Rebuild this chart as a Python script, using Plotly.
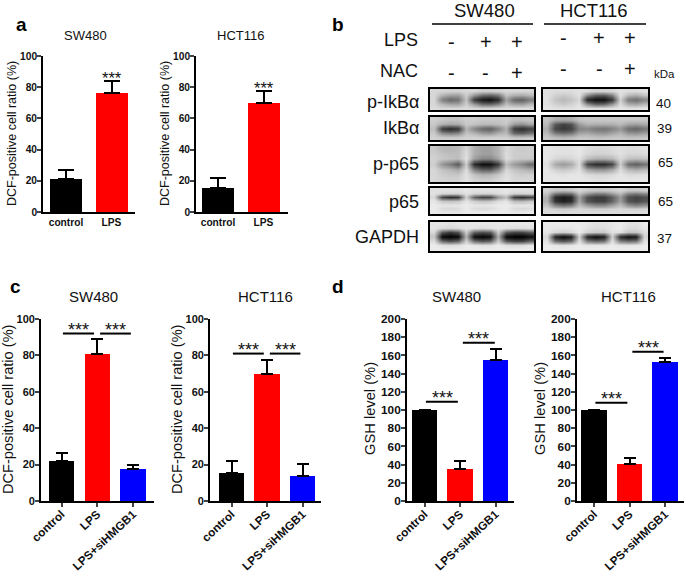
import plotly.graph_objects as go

WIDTH = 685
HEIGHT = 575

BLACK = "#000000"
RED = "#ff0000"
BLUE = "#0000ff"
TEXT = "#111111"
FONT = "Liberation Sans"

two_groups = ["control", "LPS"]
three_groups = ["control", "LPS", "LPS+siHMGB1"]

a_sw480 = [21, 76.5]
a_sw480_err = [6, 7.5]
a_hct116 = [15.5, 70]
a_hct116_err = [6.5, 7.5]

c_sw480 = [22, 80.5, 17.5]
c_sw480_err = [4.5, 8.5, 2.5]
c_hct116 = [15.5, 70, 14]
c_hct116_err = [6.5, 7.5, 6.5]

d_sw480 = [100, 35.5, 154.5]
d_sw480_err = [0, 8.5, 12.5]
d_hct116 = [100, 41, 153]
d_hct116_err = [0, 6, 4]

dcf_ticks = [0, 20, 40, 60, 80, 100]
gsh_ticks = [0, 20, 40, 60, 80, 100, 120, 140, 160, 180, 200]

sw_p_ikba = [
    [215, 215, 210, 210, 215, 215, 205, 205, 210, 215, 215, 215, 215],
    [215, 180, 160, 160, 205, 150, 110, 100, 120, 195, 175, 170, 185],
    [215, 130, 105, 115, 195, 60, 25, 15, 45, 160, 105, 95, 125],
    [215, 185, 165, 165, 205, 155, 110, 105, 130, 190, 165, 160, 185],
    [220, 215, 215, 215, 220, 215, 210, 210, 215, 220, 220, 220, 220],
]
sw_ikba = [
    [205, 200, 195, 195, 205, 205, 200, 200, 200, 205, 195, 195, 200],
    [200, 175, 165, 170, 200, 195, 185, 185, 190, 200, 155, 145, 165],
    [190, 60, 40, 55, 180, 135, 105, 95, 130, 175, 60, 45, 65],
    [200, 140, 125, 135, 195, 180, 155, 150, 175, 185, 105, 95, 115],
    [210, 205, 205, 205, 210, 210, 210, 210, 210, 210, 200, 200, 205],
]
sw_p_p65 = [
    [200, 180, 180, 185, 215, 175, 160, 160, 180, 215, 205, 200, 205],
    [205, 195, 190, 190, 220, 175, 160, 160, 180, 220, 205, 205, 205],
    [210, 200, 195, 190, 225, 160, 135, 135, 165, 220, 205, 200, 200],
    [205, 150, 125, 90, 205, 45, 15, 15, 60, 190, 155, 135, 105],
    [215, 195, 185, 170, 220, 130, 95, 95, 140, 215, 195, 185, 175],
    [215, 205, 200, 200, 225, 195, 180, 185, 200, 225, 210, 205, 210],
    [215, 210, 210, 210, 225, 210, 205, 205, 215, 225, 215, 215, 215],
]
sw_p65 = [
    [225, 225, 225, 225, 230, 225, 225, 225, 225, 230, 225, 225, 225],
    [225, 215, 210, 210, 225, 215, 210, 210, 220, 225, 210, 210, 215],
    [215, 70, 45, 55, 210, 100, 65, 70, 150, 190, 60, 45, 65],
    [230, 200, 195, 200, 230, 205, 195, 200, 220, 230, 190, 185, 200],
    [235, 230, 230, 230, 235, 230, 230, 230, 235, 235, 230, 230, 230],
    [235, 220, 215, 220, 235, 220, 215, 220, 230, 235, 220, 215, 220],
    [235, 230, 230, 230, 235, 235, 235, 235, 235, 235, 230, 230, 235],
]
sw_gapdh = [
    [230, 230, 225, 230, 230, 230, 230, 230, 230, 230, 230, 230, 230],
    [230, 220, 215, 220, 230, 225, 220, 225, 230, 225, 220, 220, 225],
    [215, 90, 60, 85, 205, 100, 80, 90, 205, 95, 70, 70, 95],
    [195, 10, 0, 10, 180, 15, 5, 15, 175, 10, 0, 0, 15],
    [220, 110, 85, 105, 210, 115, 90, 105, 205, 95, 70, 70, 105],
    [235, 225, 220, 225, 235, 230, 225, 225, 235, 225, 220, 220, 230],
    [235, 235, 235, 235, 235, 235, 235, 235, 235, 235, 235, 235, 235],
]

hct_p_ikba = [
    [225, 220, 220, 220, 225, 220, 210, 210, 215, 225, 220, 220, 225],
    [225, 210, 200, 210, 225, 140, 95, 90, 130, 225, 185, 175, 195],
    [225, 195, 185, 195, 215, 40, 15, 15, 55, 210, 125, 110, 135],
    [225, 210, 200, 210, 225, 145, 100, 105, 150, 220, 175, 165, 185],
    [230, 225, 225, 225, 230, 225, 220, 220, 225, 230, 225, 225, 230],
]
hct_ikba = [
    [195, 175, 170, 175, 195, 200, 200, 200, 200, 200, 200, 200, 200],
    [185, 90, 65, 80, 155, 180, 175, 175, 175, 185, 165, 160, 170],
    [170, 70, 55, 65, 130, 135, 120, 115, 130, 150, 110, 100, 120],
    [185, 125, 110, 120, 165, 170, 155, 150, 165, 180, 150, 145, 160],
    [200, 190, 185, 190, 200, 200, 195, 195, 200, 200, 195, 195, 200],
]
hct_p_p65 = [
    [230, 225, 225, 225, 230, 220, 215, 215, 220, 225, 220, 220, 225],
    [230, 225, 225, 225, 230, 215, 210, 210, 215, 225, 215, 215, 220],
    [230, 215, 210, 215, 225, 190, 175, 175, 185, 215, 195, 190, 195],
    [225, 170, 155, 170, 220, 70, 45, 45, 70, 205, 110, 95, 115],
    [230, 210, 200, 210, 225, 170, 150, 150, 170, 220, 185, 175, 185],
    [230, 230, 225, 230, 230, 220, 215, 215, 220, 230, 220, 220, 225],
    [230, 230, 230, 230, 230, 230, 225, 225, 230, 230, 230, 230, 230],
]
hct_p65 = [
    [210, 200, 195, 200, 215, 205, 200, 200, 205, 215, 200, 200, 205],
    [195, 120, 100, 110, 190, 150, 125, 125, 155, 185, 130, 120, 135],
    [175, 45, 25, 40, 160, 80, 60, 60, 95, 155, 80, 65, 80],
    [175, 50, 30, 45, 165, 85, 65, 65, 100, 160, 85, 70, 85],
    [195, 130, 110, 125, 190, 155, 135, 135, 160, 190, 145, 130, 145],
    [215, 205, 200, 205, 215, 210, 205, 205, 210, 215, 210, 205, 210],
    [220, 220, 215, 220, 220, 220, 220, 220, 220, 220, 220, 220, 220],
]
hct_gapdh = [
    [235, 235, 235, 235, 235, 230, 225, 225, 230, 235, 225, 225, 235],
    [235, 230, 230, 230, 235, 225, 220, 220, 230, 235, 220, 220, 230],
    [230, 215, 205, 215, 235, 210, 200, 200, 225, 225, 195, 195, 220],
    [215, 35, 10, 30, 210, 40, 10, 30, 210, 45, 15, 25, 210],
    [225, 115, 90, 110, 225, 130, 105, 120, 225, 130, 110, 120, 225],
    [235, 230, 225, 230, 235, 230, 230, 230, 235, 230, 230, 230, 235],
    [235, 235, 235, 235, 235, 235, 235, 235, 235, 235, 235, 235, 235],
]

fig = go.Figure()
axis_no = 0


def frac_x(px):
    return px / WIDTH


def frac_y(px):
    return 1 - px / HEIGHT


def add_text(x, y, text, size, bold=False, anchor="center", color=TEXT, angle=0):
    fig.add_annotation(
        xref="paper", yref="paper", x=frac_x(x), y=frac_y(y), text=f"<b>{text}</b>" if bold else text,
        showarrow=False, xanchor=anchor, yanchor="middle", textangle=angle,
        font=dict(family=FONT, size=size, color=color),
    )


def bar_panel(left, right, top, bottom, groups, values, errors, colors, offset, spacing, width,
              ymax, ticks, tick_size, rotated, cap):
    global axis_no
    axis_no += 1
    suffix = "" if axis_no == 1 else str(axis_no)
    fig.add_trace(go.Bar(
        x=list(range(len(groups))), y=values, width=width / spacing, marker=dict(color=colors, line_width=0),
        error_y=dict(type="data", symmetric=False, array=errors, arrayminus=[0] * len(errors),
                     color=BLACK, thickness=2, width=cap),
        xaxis=f"x{suffix}", yaxis=f"y{suffix}", showlegend=False,
    ))
    span = right - left
    start = -offset / spacing
    fig.update_layout({
        f"xaxis{suffix}": dict(
            domain=[frac_x(left), frac_x(right)], range=[start, start + span / spacing],
            tickmode="array", tickvals=list(range(len(groups))), ticktext=groups,
            tickangle=-43 if rotated else 0, ticks="outside" if rotated else "",
            ticklen=4, tickwidth=1.8, showline=True, linecolor=BLACK, linewidth=1.8,
            showgrid=False, zeroline=False, anchor=f"y{suffix}", automargin=False,
            ticklabelstandoff=-4 if rotated else 0,
            tickfont=dict(family=FONT, size=11.7 if rotated else tick_size, color=TEXT, weight="bold"),
        ),
        f"yaxis{suffix}": dict(
            domain=[frac_y(bottom), frac_y(top)], range=[0, ymax], tickvals=ticks,
            ticks="outside", ticklen=4, tickwidth=1.8, showline=True, linecolor=BLACK, linewidth=1.8,
            showgrid=False, zeroline=False, anchor=f"x{suffix}", automargin=False,
            ticklabelstandoff=-2,
            tickfont=dict(family=FONT, size=tick_size, color=TEXT, weight="bold"),
        ),
    })
    return suffix


def bracket(suffix, x0, x1, level):
    fig.add_shape(type="line", xref=f"x{suffix}", yref=f"y{suffix}", x0=x0, x1=x1, y0=level, y1=level,
                  line=dict(color=BLACK, width=2))


def stars(suffix, x, level, size):
    fig.add_annotation(
        xref=f"x{suffix}", yref=f"y{suffix}", x=x, y=level, text="***", showarrow=False,
        yanchor="middle", font=dict(family=FONT, size=size, color=TEXT),
    )


def blot(left, right, top, bottom, matrix):
    global axis_no
    axis_no += 1
    suffix = str(axis_no)
    fig.add_trace(go.Heatmap(
        z=matrix, zmin=0, zmax=255, zsmooth="best", showscale=False,
        colorscale=[[0, "#000000"], [1, "#ffffff"]],
        xaxis=f"x{suffix}", yaxis=f"y{suffix}",
    ))
    fig.update_layout({
        f"xaxis{suffix}": dict(domain=[frac_x(left), frac_x(right)], showticklabels=False, ticks="",
                               showgrid=False, zeroline=False, showline=True, mirror=True, automargin=False,
                               linecolor=BLACK, linewidth=2, anchor=f"y{suffix}"),
        f"yaxis{suffix}": dict(domain=[frac_y(bottom), frac_y(top)], showticklabels=False, ticks="", automargin=False,
                               autorange="reversed", showgrid=False, zeroline=False, showline=True,
                               mirror=True, linecolor=BLACK, linewidth=2, anchor=f"x{suffix}"),
    })


two_colors = [BLACK, RED]
three_colors = [BLACK, RED, BLUE]
dcf_title = "DCF-positive cell ratio (%)"
gsh_title = "GSH level (%)"

# panel a
s = bar_panel(43, 135, 56, 212, two_groups, a_sw480, a_sw480_err, two_colors, 23, 45.5, 32,
              100, dcf_ticks, 10.2, False, 8)
stars(s, 1, 86, 16.5)
s = bar_panel(196, 288, 56, 212, two_groups, a_hct116, a_hct116_err, two_colors, 22, 45.5, 32,
              100, dcf_ticks, 10.2, False, 8)
stars(s, 1, 79.5, 16.5)
add_text(12, 134, dcf_title, 12.5, angle=-90)
add_text(165, 134, dcf_title, 12.5, angle=-90)

# panel c
s = bar_panel(41, 154, 319, 501, three_groups, c_sw480, c_sw480_err, three_colors, 20.5, 35.75, 25.5,
              100, dcf_ticks, 11, True, 6)
bracket(s, 0.04, 0.91, 92)
bracket(s, 1.08, 1.94, 92)
stars(s, 0.47, 94, 18)
stars(s, 1.51, 94, 18)
s = bar_panel(210, 321, 319, 501, three_groups, c_hct116, c_hct116_err, three_colors, 21.5, 35.5, 25.5,
              100, dcf_ticks, 11, True, 6)
bracket(s, 0.04, 0.91, 81)
bracket(s, 1.08, 1.94, 81)
stars(s, 0.47, 83, 18)
stars(s, 1.51, 83, 18)
add_text(8, 410, dcf_title, 14.6, angle=-90)
add_text(177, 410, dcf_title, 14.6, angle=-90)

# panel d
s = bar_panel(407, 514, 319, 501, three_groups, d_sw480, d_sw480_err, three_colors, 17.5, 35.5, 25.5,
              200, gsh_ticks, 11.8, True, 6)
bracket(s, 0.04, 0.94, 109)
bracket(s, 1.08, 1.98, 174)
stars(s, 0.5, 113, 18)
stars(s, 1.53, 178, 18)
s = bar_panel(577, 684, 319, 501, three_groups, d_hct116, d_hct116_err, three_colors, 17, 35.5, 25.5,
              200, gsh_ticks, 11.8, True, 6)
bracket(s, 0.04, 0.94, 108)
bracket(s, 1.08, 1.96, 164)
stars(s, 0.5, 112, 18)
stars(s, 1.53, 168, 18)
add_text(370, 409, gsh_title, 14.7, angle=-90)
add_text(540, 409, gsh_title, 14.7, angle=-90)

# panel b
sw_left, sw_right = 430, 534
hct_left, hct_right = 543, 648
rows = [(89, 110), (117, 140), (146, 182), (188, 214), (222, 251)]
sw_blots = [sw_p_ikba, sw_ikba, sw_p_p65, sw_p65, sw_gapdh]
hct_blots = [hct_p_ikba, hct_ikba, hct_p_p65, hct_p65, hct_gapdh]
for (top, bottom), sw, hct in zip(rows, sw_blots, hct_blots):
    blot(sw_left, sw_right, top, bottom, sw)
    blot(hct_left, hct_right, top, bottom, hct)

fig.add_shape(type="line", xref="paper", yref="paper", x0=frac_x(432), x1=frac_x(533), y0=frac_y(24), y1=frac_y(24),
              line=dict(color=BLACK, width=1.5))
fig.add_shape(type="line", xref="paper", yref="paper", x0=frac_x(544), x1=frac_x(646), y0=frac_y(24), y1=frac_y(24),
              line=dict(color=BLACK, width=1.5))

add_text(484, 11, "SW480", 18.5)
add_text(594, 11, "HCT116", 18.5)
add_text(420, 40, "LPS", 18, anchor="right")
add_text(420, 71, "NAC", 18, anchor="right")
for label, y in [("p-IkBα", 102), ("IkBα", 128), ("p-p65", 164), ("p65", 202), ("GAPDH", 237)]:
    add_text(421, y, label, 18, anchor="right")

lane_x = [451, 486, 517, 563, 599, 630]
lps_marks = ["-", "+", "+", "-", "+", "+"]
nac_marks = ["-", "-", "+", "-", "-", "+"]
lps_y = [42, 42, 42, 38, 38, 38]
nac_y = [73, 73, 73, 69, 69, 69]
for x, a, b, y0, y1 in zip(lane_x, lps_marks, nac_marks, lps_y, nac_y):
    add_text(x, y0, a, 20)
    add_text(x, y1, b, 20)

add_text(664, 74, "kDa", 11.5)
for label, x, y in [("40", 663, 103), ("39", 664, 129), ("65", 665, 162), ("65", 665, 202), ("37", 664, 238)]:
    add_text(x, y, label, 13.5)

# panel titles and letters
add_text(85, 36, "SW480", 13)
add_text(240, 36, "HCT116", 13)
add_text(93, 296, "SW480", 15)
add_text(265, 296, "HCT116", 15)
add_text(456, 296, "SW480", 15)
add_text(628, 296, "HCT116", 15)
add_text(21, 25, "a", 19, bold=True, color=BLACK)
add_text(338, 25, "b", 19, bold=True, color=BLACK)
add_text(16, 286, "c", 19, bold=True, color=BLACK)
add_text(338, 286, "d", 19, bold=True, color=BLACK)

fig.update_layout(
    width=WIDTH, height=HEIGHT, margin=dict(l=0, r=0, t=0, b=0),
    paper_bgcolor="white", plot_bgcolor="white", bargap=0, showlegend=False,
)
fig.write_html("out.html", config={"displayModeBar": False},
               post_script="document.body.style.margin='0';document.documentElement.style.overflow='hidden';")
